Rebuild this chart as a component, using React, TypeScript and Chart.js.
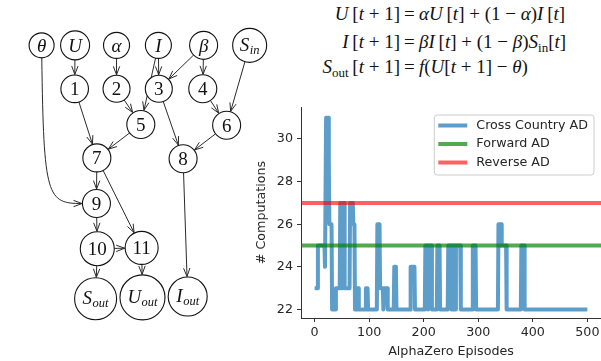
import React, { useEffect, useRef } from "react";
import { Chart, registerables } from "chart.js";
Chart.register(...registerables);

// ================= Line chart data =================
// Each run: episode where a value starts, and the value held until the next run starts
const episodeRunStarts = [0, 6, 19, 21, 26, 27, 32, 39, 47, 49, 52, 55, 65, 71, 74, 77, 81, 94, 98, 115, 120, 126, 128, 134, 146, 150, 176, 184, 203, 208, 210, 215, 225, 230, 245, 251, 253, 257, 259, 268, 290, 296, 337, 343, 352, 379, 385];
const episodeRunValues = [23, 25, 24, 31, 29, 26, 22, 23, 27, 23, 27, 23, 27, 26, 22, 23, 22, 23, 22, 26, 23, 22, 23, 22, 24, 22, 24, 22, 25, 22, 25, 22, 25, 22, 25, 22, 25, 22, 25, 22, 25, 22, 26, 25, 22, 25, 22];
const lastEpisode = 500;
const forwardADValue = 25;
const reverseADValue = 27;
const xRange = [-25, 525];
const yRange = [21.6, 31.5];
const xTickValues = [0, 100, 200, 300, 400, 500];
const yTickValues = [22, 24, 26, 28, 30];
const seriesNames = ["Cross Country AD", "Forward AD", "Reverse AD"];
const seriesColors = ["rgba(31,119,180,0.72)", "rgba(0,128,0,0.68)", "rgba(255,0,0,0.62)"];
const xAxisTitle = "AlphaZero Episodes";
const yAxisTitle = "# Computations";

// ================= Graph (computation DAG) data =================
const nodeMain = ["θ", "U", "α", "I", "β", "S", "1", "2", "3", "4", "5", "6", "7", "8", "9", "10", "11", "S", "U", "I"];
const nodeSub = ["", "", "", "", "", "in", "", "", "", "", "", "", "", "", "", "", "", "out", "out", "out"];
const nodeItalic = [true, true, true, true, true, true, false, false, false, false, false, false, false, false, false, false, false, true, true, true];
const nodeX = [21.5, 61.5, 111, 161, 215, 270, 61, 111, 161.5, 214, 140, 242.5, 87.5, 190.5, 87, 88, 141, 86, 142, 196];
const nodeY = [25, 25, 25, 25, 25, 25, 75, 75, 75, 75, 116, 117, 154.5, 155.5, 207, 259, 258, 316.5, 315, 314];
const nodeR = [12.5, 14.5, 13, 13, 14, 17, 13.8, 13.5, 13.5, 14, 14, 14, 14, 14, 14, 17, 16.5, 21, 22.5, 19.5];
const edgeFrom = [1, 2, 3, 4, 4, 3, 7, 9, 5, 6, 10, 8, 11, 12, 12, 14, 15, 15, 16, 13];
const edgeTo = [6, 7, 8, 8, 9, 10, 10, 11, 11, 12, 12, 13, 13, 14, 16, 15, 16, 17, 18, 19];
// curved edge θ -> 9 (cubic bezier control points)
const curvedFrom = 0;
const curvedTo = 14;
const curvedCtrlX = [24, 28];
const curvedCtrlY = [200, 207];

const graphExtentX = [0, 290];
const graphExtentY = [0, 361];

function buildRunPoints() {
  const pts: { x: number; y: number }[] = [];
  for (let i = 0; i < episodeRunStarts.length; i++) {
    const s = episodeRunStarts[i];
    const e = i < episodeRunStarts.length - 1 ? episodeRunStarts[i + 1] - 1 : lastEpisode;
    const v = episodeRunValues[i];
    pts.push({ x: s, y: v });
    if (e > s) pts.push({ x: e, y: v });
  }
  return pts;
}

const FONT = '"DejaVu Sans", sans-serif';
const TEXT_COLOR = "#262626";
const AXIS_COLOR = "#333333";

const legendPlugin = {
  id: "mplLegend",
  afterDatasetsDraw(chart: any) {
    const { ctx, chartArea } = chart;
    const ds = chart.data.datasets;
    ctx.save();
    ctx.font = `12.7px ${FONT}`;
    const maxW = Math.max(...ds.map((d: any) => ctx.measureText(d.label).width));
    const w = 42 + maxW + 6;
    const h = 60;
    const x0 = chartArea.right - 7 - w;
    const y0 = chartArea.top + 8;
    const r = 3;
    ctx.beginPath();
    ctx.moveTo(x0 + r, y0);
    ctx.lineTo(x0 + w - r, y0);
    ctx.arcTo(x0 + w, y0, x0 + w, y0 + r, r);
    ctx.lineTo(x0 + w, y0 + h - r);
    ctx.arcTo(x0 + w, y0 + h, x0 + w - r, y0 + h, r);
    ctx.lineTo(x0 + r, y0 + h);
    ctx.arcTo(x0, y0 + h, x0, y0 + h - r, r);
    ctx.lineTo(x0, y0 + r);
    ctx.arcTo(x0, y0, x0 + r, y0, r);
    ctx.closePath();
    ctx.fillStyle = "rgba(255,255,255,0.8)";
    ctx.fill();
    ctx.strokeStyle = "#cccccc";
    ctx.lineWidth = 1;
    ctx.stroke();
    ds.forEach((d: any, i: number) => {
      const y = y0 + 10.5 + i * 18.5;
      ctx.beginPath();
      ctx.moveTo(x0 + 4, y);
      ctx.lineTo(x0 + 33, y);
      ctx.strokeStyle = d.borderColor;
      ctx.lineWidth = 4;
      ctx.lineCap = "butt";
      ctx.stroke();
      ctx.fillStyle = TEXT_COLOR;
      ctx.textBaseline = "middle";
      ctx.textAlign = "left";
      ctx.fillText(d.label, x0 + 42, y);
    });
    ctx.restore();
  },
};

function drawArrowHead(ctx: CanvasRenderingContext2D, fx: number, fy: number, tx: number, ty: number) {
  const ang = Math.atan2(ty - fy, tx - fx);
  const len = 9;
  const spread = 0.36;
  ctx.beginPath();
  ctx.moveTo(tx - len * Math.cos(ang - spread), ty - len * Math.sin(ang - spread));
  ctx.lineTo(tx, ty);
  ctx.lineTo(tx - len * Math.cos(ang + spread), ty - len * Math.sin(ang + spread));
  ctx.stroke();
}

const edgesPlugin = {
  id: "dagEdges",
  beforeDatasetsDraw(chart: any) {
    const { ctx } = chart;
    const meta = chart.getDatasetMeta(0);
    const P = (i: number) => ({ x: meta.data[i].x, y: meta.data[i].y });
    ctx.save();
    ctx.strokeStyle = "#2a2a2a";
    ctx.lineWidth = 1;
    for (let k = 0; k < edgeFrom.length; k++) {
      const a = P(edgeFrom[k]);
      const b = P(edgeTo[k]);
      const dx = b.x - a.x;
      const dy = b.y - a.y;
      const d = Math.hypot(dx, dy);
      const ux = dx / d;
      const uy = dy / d;
      const sx = a.x + ux * nodeR[edgeFrom[k]];
      const sy = a.y + uy * nodeR[edgeFrom[k]];
      const ex = b.x - ux * (nodeR[edgeTo[k]] + 0.5);
      const ey = b.y - uy * (nodeR[edgeTo[k]] + 0.5);
      ctx.beginPath();
      ctx.moveTo(sx, sy);
      ctx.lineTo(ex, ey);
      ctx.stroke();
      drawArrowHead(ctx, sx, sy, ex, ey);
    }
    // curved edge
    const xs = chart.scales.x;
    const ys = chart.scales.y;
    const c1 = { x: xs.getPixelForValue(curvedCtrlX[0]), y: ys.getPixelForValue(curvedCtrlY[0]) };
    const c2 = { x: xs.getPixelForValue(curvedCtrlX[1]), y: ys.getPixelForValue(curvedCtrlY[1]) };
    const a = P(curvedFrom);
    const b = P(curvedTo);
    let dx = c1.x - a.x, dy = c1.y - a.y, d = Math.hypot(dx, dy);
    const sx = a.x + (dx / d) * nodeR[curvedFrom];
    const sy = a.y + (dy / d) * nodeR[curvedFrom];
    dx = b.x - c2.x; dy = b.y - c2.y; d = Math.hypot(dx, dy);
    const ex = b.x - (dx / d) * (nodeR[curvedTo] + 0.5);
    const ey = b.y - (dy / d) * (nodeR[curvedTo] + 0.5);
    ctx.beginPath();
    ctx.moveTo(sx, sy);
    ctx.bezierCurveTo(c1.x, c1.y, c2.x, c2.y, ex, ey);
    ctx.stroke();
    drawArrowHead(ctx, c2.x, c2.y, ex, ey);
    ctx.restore();
  },
  afterDatasetsDraw(chart: any) {
    const { ctx } = chart;
    const meta = chart.getDatasetMeta(0);
    ctx.save();
    ctx.fillStyle = "#111";
    ctx.textBaseline = "alphabetic";
    ctx.textAlign = "left";
    for (let i = 0; i < nodeMain.length; i++) {
      const cx = meta.data[i].x;
      const cy = meta.data[i].y;
      const mainFont = `${nodeItalic[i] ? "italic " : ""}19px "Liberation Serif", serif`;
      const subFont = `italic 12.5px "Liberation Serif", serif`;
      ctx.font = mainFont;
      const wm = ctx.measureText(nodeMain[i]).width;
      let ws = 0;
      if (nodeSub[i]) {
        ctx.font = subFont;
        ws = ctx.measureText(nodeSub[i]).width + 0.5;
      }
      const x0 = cx - (wm + ws) / 2;
      const base = nodeSub[i] ? cy + 5.5 : cy + 6.5;
      ctx.font = mainFont;
      ctx.fillText(nodeMain[i], x0, base);
      if (nodeSub[i]) {
        ctx.font = subFont;
        ctx.fillText(nodeSub[i], x0 + wm + 0.5, base + 3);
      }
    }
    ctx.restore();
  },
};

function graphConfig(): any {
  return {
    type: "scatter",
    data: {
      datasets: [
        {
          data: nodeX.map((x, i) => ({ x, y: nodeY[i] })),
          pointRadius: nodeR,
          pointHoverRadius: nodeR,
          pointBackgroundColor: "#ffffff",
          pointBorderColor: "#111111",
          pointBorderWidth: 1.1,
          showLine: false,
          clip: false,
        },
      ],
    },
    options: {
      responsive: false,
      animation: false,
      events: [],
      layout: { padding: 0 },
      plugins: { legend: { display: false }, tooltip: { enabled: false } },
      scales: {
        x: { type: "linear", min: graphExtentX[0], max: graphExtentX[1], display: false },
        y: { type: "linear", min: graphExtentY[0], max: graphExtentY[1], reverse: true, display: false },
      },
    },
    plugins: [edgesPlugin],
  };
}

function lineConfig(): any {
  const flat = (v: number) => [
    { x: xRange[0], y: v },
    { x: xRange[1], y: v },
  ];
  const tickFont = { family: FONT, size: 12.7 };
  return {
    type: "scatter",
    data: {
      datasets: [
        { label: seriesNames[0], data: buildRunPoints(), borderColor: seriesColors[0], backgroundColor: seriesColors[0], borderWidth: 4, showLine: true, pointRadius: 0, borderJoinStyle: "round", order: 3 },
        { label: seriesNames[1], data: flat(forwardADValue), borderColor: seriesColors[1], backgroundColor: seriesColors[1], borderWidth: 4, showLine: true, pointRadius: 0, order: 2 },
        { label: seriesNames[2], data: flat(reverseADValue), borderColor: seriesColors[2], backgroundColor: seriesColors[2], borderWidth: 4, showLine: true, pointRadius: 0, order: 1 },
      ],
    },
    options: {
      responsive: false,
      animation: false,
      events: [],
      layout: { padding: { top: 7, left: 0, right: 0, bottom: 0 } },
      plugins: { legend: { display: false }, tooltip: { enabled: false } },
      scales: {
        x: {
          type: "linear",
          min: xRange[0],
          max: xRange[1],
          afterBuildTicks: (s: any) => { s.ticks = xTickValues.map((v) => ({ value: v })); },
          afterFit: (s: any) => { s.height = 43; s.paddingLeft = 0; s.paddingRight = 0; },
          grid: { display: true, drawOnChartArea: false, drawTicks: true, tickLength: 4, color: AXIS_COLOR, tickColor: AXIS_COLOR, tickWidth: 1 },
          border: { display: true, color: AXIS_COLOR, width: 1 },
          ticks: { color: TEXT_COLOR, font: tickFont, padding: 3, maxRotation: 0, autoSkip: false },
          title: { display: true, text: xAxisTitle, color: TEXT_COLOR, font: tickFont, padding: { top: 0, bottom: 1.4 } },
        },
        y: {
          type: "linear",
          min: yRange[0],
          max: yRange[1],
          afterBuildTicks: (s: any) => { s.ticks = yTickValues.map((v) => ({ value: v })); },
          afterFit: (s: any) => { s.width = 61; s.paddingTop = 0; s.paddingBottom = 0; },
          grid: { display: true, drawOnChartArea: false, drawTicks: true, tickLength: 4, color: AXIS_COLOR, tickColor: AXIS_COLOR, tickWidth: 1 },
          border: { display: true, color: AXIS_COLOR, width: 1 },
          ticks: { color: TEXT_COLOR, font: tickFont, padding: 4, autoSkip: false },
          title: { display: true, text: yAxisTitle, color: TEXT_COLOR, font: tickFont, padding: { top: 14.4, bottom: 0 } },
        },
      },
    },
    plugins: [legendPlugin],
  };
}

const eqBase: React.CSSProperties = {
  position: "absolute",
  fontFamily: '"Liberation Serif", serif',
  fontSize: 19,
  lineHeight: "20px",
  whiteSpace: "nowrap",
  color: "#111",
};
const subStyle: React.CSSProperties = { fontSize: 13, verticalAlign: "-0.3em", lineHeight: 0 };
const sp = "\u2009";

function EqRow({ top, left, right }: { top: number; left: React.ReactNode; right: React.ReactNode }) {
  return (
    <>
      <div style={{ ...eqBase, top, right: 201, textAlign: "right" }}>{left}</div>
      <div style={{ ...eqBase, top, left: 404 }}>=</div>
      <div style={{ ...eqBase, top, left: 419 }}>{right}</div>
    </>
  );
}

function Equations() {
  return (
    <>
      <EqRow
        top={4}
        left={<><i>U</i>{sp}[<i>t</i> + 1]</>}
        right={<><i>αU</i>{sp}[<i>t</i>] + (1 − <i>α</i>)<i>I</i>{sp}[<i>t</i>]</>}
      />
      <EqRow
        top={32}
        left={<><i>I</i>{sp}[<i>t</i> + 1]</>}
        right={<><i>βI</i>{sp}[<i>t</i>] + (1 − <i>β</i>)<i>S</i><span style={subStyle}>in</span>[<i>t</i>]</>}
      />
      <EqRow
        top={57}
        left={<><i>S</i><span style={subStyle}>out</span>{sp}[<i>t</i> + 1]</>}
        right={<><i>f</i>(<i>U</i>[<i>t</i> + 1] − <i>θ</i>)</>}
      />
    </>
  );
}

export default function App() {
  const graphRef = useRef<HTMLCanvasElement>(null);
  const lineRef = useRef<HTMLCanvasElement>(null);
  useEffect(() => {
    const g = new Chart(graphRef.current as HTMLCanvasElement, graphConfig());
    const l = new Chart(lineRef.current as HTMLCanvasElement, lineConfig());
    return () => {
      g.destroy();
      l.destroy();
    };
  }, []);
  return (
    <div style={{ position: "absolute", left: 0, top: 0, width: 601, height: 361, background: "#fff", overflow: "hidden" }}>
      <canvas ref={graphRef} width={290} height={361} style={{ position: "absolute", left: 0, top: 0, width: 290, height: 361 }} />
      <canvas ref={lineRef} width={361} height={261} style={{ position: "absolute", left: 240, top: 100, width: 361, height: 261 }} />
      <Equations />
    </div>
  );
}
